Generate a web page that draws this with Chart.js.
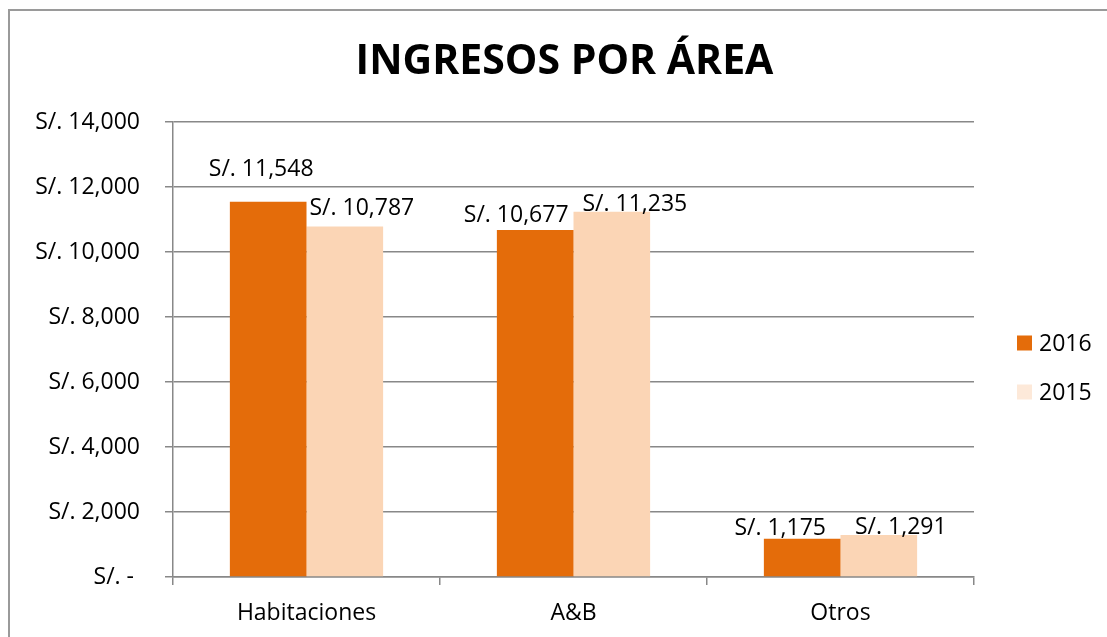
<!DOCTYPE html>
<html>
<head>
<meta charset="utf-8">
<script src="https://cdn.jsdelivr.net/npm/chart.js@4.4.1/dist/chart.umd.min.js"></script>
<style>
    html, body { margin: 0; padding: 0; background: #fff; overflow: hidden; }
    #grafico { display: block; }
</style>
</head>
<body>
<canvas id="grafico" width="1107" height="637"></canvas>
<script>
const titulo = "INGRESOS POR ÁREA";
const categorias = ["Habitaciones", "A&B", "Otros"];
const anios = ["2016", "2015"];
const ingresos2016 = [11548, 10677, 1175];
const ingresos2015 = [10787, 11235, 1291];
const ticksY = [0, 2000, 4000, 6000, 8000, 10000, 12000, 14000];

const colores = ["#E46C0A", "#FBD5B5"];
const coloresLeyenda = ["#E46C0A", "#FDE9D9"];
const gris = "#888888";
const fuente = "'Open Sans', 'DejaVu Sans', sans-serif";

// Desplazamiento manual de las etiquetas [dx, dy] respecto al borde superior de cada barra
const desplazaEtiquetas = [
    [[-7, -26], [-19, -8], [-22, -4]],
    [[17, -11], [23, -1], [22, -1]]
];

const formatoSoles = (v) => v === 0 ? "S/. - " : "S/. " + v.toLocaleString("en-US");

// Marco del gráfico (solo se ven los bordes izquierdo y superior) y título
const marco = {
    id: "marco",
    beforeDraw(chart) {
        const { ctx, chartArea } = chart;
        ctx.save();
        ctx.strokeStyle = "#9a9a9a";
        ctx.lineWidth = 2;
        ctx.beginPath();
        ctx.moveTo(9, chart.height + 5);
        ctx.lineTo(9, 10);
        ctx.lineTo(chart.width + 5, 10);
        ctx.stroke();

        ctx.font = "bold 41px " + fuente;
        ctx.fillStyle = "#000";
        ctx.textAlign = "center";
        ctx.textBaseline = "alphabetic";
        ctx.fillText(titulo, (chartArea.left + chartArea.right) / 2 - 9, chartArea.top - 48);
        ctx.restore();
    }
};

// Etiquetas de datos sobre cada barra
const etiquetas = {
    id: "etiquetas",
    afterDatasetsDraw(chart) {
        const ctx = chart.ctx;
        ctx.save();
        ctx.font = "23px " + fuente;
        ctx.fillStyle = "#000";
        ctx.textAlign = "center";
        ctx.textBaseline = "alphabetic";
        chart.data.datasets.forEach((ds, i) => {
            chart.getDatasetMeta(i).data.forEach((barra, j) => {
                const [dx, dy] = desplazaEtiquetas[i][j];
                ctx.fillText(formatoSoles(ds.data[j]), barra.x + dx, barra.y + dy);
            });
        });
        ctx.restore();
    }
};

// Leyenda a la derecha del área del gráfico
const leyenda = {
    id: "leyenda",
    afterDraw(chart) {
        const { ctx, chartArea } = chart;
        const x = chartArea.right + 43;
        const centro = (chartArea.top + chartArea.bottom) / 2 + 18;
        ctx.save();
        ctx.font = "23px " + fuente;
        ctx.textAlign = "left";
        ctx.textBaseline = "middle";
        chart.data.datasets.forEach((ds, i) => {
            const cy = centro + (i - 0.5) * 49;
            ctx.fillStyle = coloresLeyenda[i];
            ctx.fillRect(x, cy - 7.5, 15, 15);
            ctx.fillStyle = "#000";
            ctx.fillText(ds.label, x + 22, cy + 1);
        });
        ctx.restore();
    }
};

const ctx = document.getElementById("grafico").getContext("2d");

new Chart(ctx, {
    type: "bar",
    data: {
        labels: categorias,
        datasets: [
            { label: anios[0], data: ingresos2016, backgroundColor: colores[0], borderWidth: 0 },
            { label: anios[1], data: ingresos2015, backgroundColor: colores[1], borderWidth: 0 }
        ]
    },
    options: {
        responsive: false,
        animation: false,
        categoryPercentage: 0.574,
        barPercentage: 1,
        layout: { padding: { left: 9, right: 133, top: 122, bottom: 0 } },
        plugins: {
            legend: { display: false },
            tooltip: { enabled: false },
            title: { display: false }
        },
        scales: {
            x: {
                afterFit: (s) => { s.height = 60; },
                grid: { offset: true, drawOnChartArea: false, tickLength: 8, color: gris, lineWidth: 1.5 },
                border: { color: gris, width: 1.5 },
                ticks: { color: "#000", padding: 15, font: { family: fuente, size: 23 } }
            },
            y: {
                min: 0,
                max: 14000,
                afterFit: (s) => { s.width = 164; },
                afterBuildTicks: (s) => { s.ticks = ticksY.map(v => ({ value: v })); },
                grid: { color: gris, lineWidth: 1.5, tickLength: 8 },
                border: { color: gris, width: 1.5 },
                ticks: {
                    color: "#000",
                    padding: 25,
                    font: { family: fuente, size: 23 },
                    callback: (v) => formatoSoles(v)
                }
            }
        }
    },
    plugins: [marco, etiquetas, leyenda]
});
</script>
</body>
</html>
